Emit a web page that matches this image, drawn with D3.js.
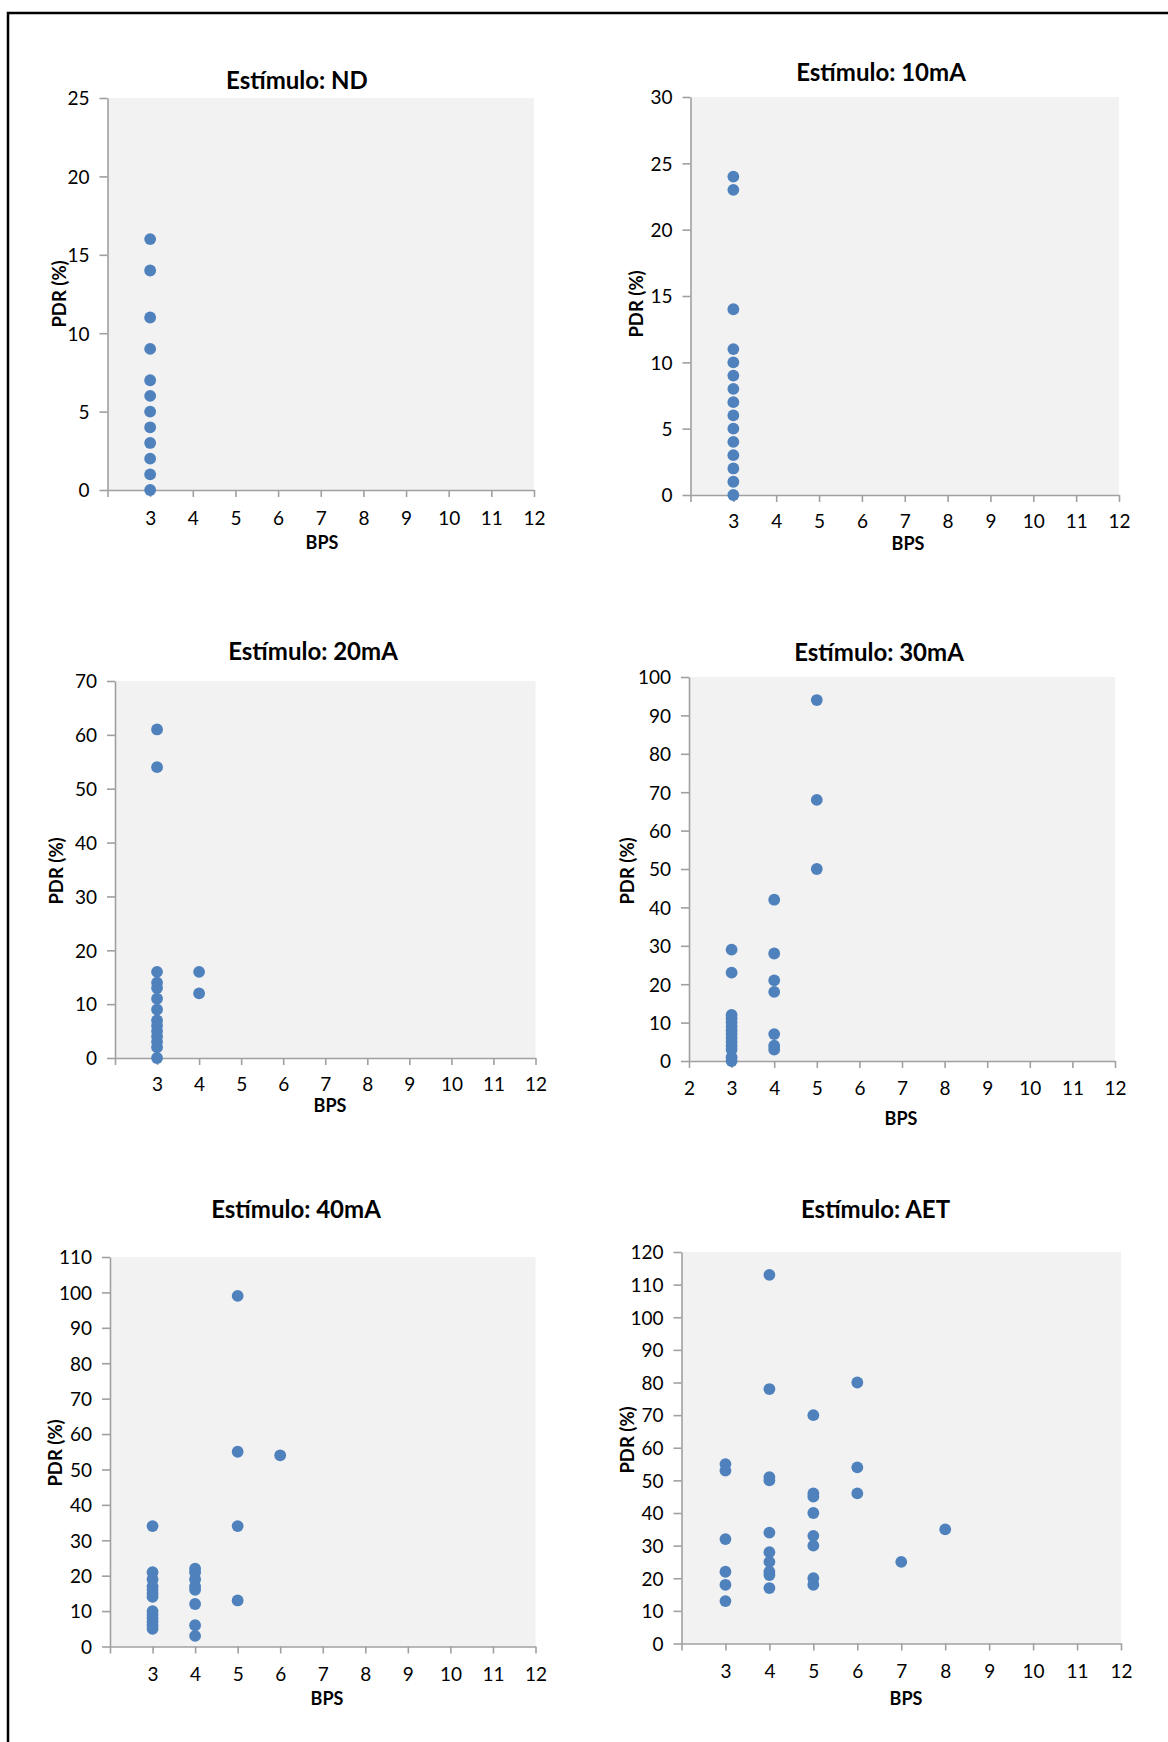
<!DOCTYPE html>
<html>
<head>
<meta charset="utf-8">
<script src="https://cdn.jsdelivr.net/npm/d3@7"></script>
<style>
  body { margin: 0; background: #fff; }
  svg { display: block; }
  text { font-family: Lato, "Open Sans", sans-serif; fill: #000; }
</style>
</head>
<body>
<div id="chart"></div>
<script>
// x axis ticks shared by every panel
var bpsTicks = [2, 3, 4, 5, 6, 7, 8, 9, 10, 11, 12];

// one pair of arrays per panel: BPS and PDR (%)
var ndBps = [3, 3, 3, 3, 3, 3, 3, 3, 3, 3, 3, 3];
var ndPdr = [16, 14, 11, 9, 7, 6, 5, 4, 3, 2, 1, 0];

var ma10Bps = [3, 3, 3, 3, 3, 3, 3, 3, 3, 3, 3, 3, 3, 3, 3];
var ma10Pdr = [24, 23, 14, 11, 10, 9, 8, 7, 6, 5, 4, 3, 2, 1, 0];

var ma20Bps = [3, 3, 3, 3, 3, 3, 3, 3, 3, 3, 3, 3, 3, 3, 4, 4];
var ma20Pdr = [61, 54, 16, 14, 13, 11, 9, 7, 6, 5, 4, 3, 2, 0, 16, 12];

var ma30Bps = [3, 3, 3, 3, 3, 3, 3, 3, 3, 3, 3, 3, 3, 3, 4, 4, 4, 4, 4, 4, 4, 5, 5, 5];
var ma30Pdr = [29, 23, 12, 11, 10, 9, 8, 7, 6, 5, 4, 3, 1, 0, 42, 28, 21, 18, 7, 4, 3, 94, 68, 50];

var ma40Bps = [3, 3, 3, 3, 3, 3, 3, 3, 3, 3, 3, 3, 3, 4, 4, 4, 4, 4, 4, 4, 4, 5, 5, 5, 5, 6];
var ma40Pdr = [34, 21, 19, 17, 16, 15, 14, 10, 9, 8, 7, 6, 5, 22, 21, 19, 17, 16, 12, 6, 3, 99, 55, 34, 13, 54];

var aetBps = [3, 3, 3, 3, 3, 3, 4, 4, 4, 4, 4, 4, 4, 4, 4, 4, 5, 5, 5, 5, 5, 5, 5, 5, 6, 6, 6, 7, 8];
var aetPdr = [55, 53, 32, 22, 18, 13, 113, 78, 51, 50, 34, 28, 25, 22, 21, 17, 70, 46, 45, 40, 33, 30, 20, 18, 80, 54, 46, 25, 35];

var titles = ['Estímulo: ND', 'Estímulo: 10mA', 'Estímulo: 20mA', 'Estímulo: 30mA', 'Estímulo: 40mA', 'Estímulo: AET'];
var yMaxes = [25, 30, 70, 100, 110, 120];
var ySteps = [5, 5, 10, 10, 10, 10];

// layout of each panel (pixels)
var panels = [
  {bps: ndBps, pdr: ndPdr, l: 107.5, r: 534, t: 98, b: 490, tx: 297, ty: 89, lab: 524.5, bx: 322, by: 549, yx: 59, yy: 294, show2: false},
  {bps: ma10Bps, pdr: ma10Pdr, l: 690.5, r: 1119, t: 97, b: 495, tx: 881, ty: 81, lab: 528, bx: 908, by: 550, yx: 636, yy: 304, show2: false},
  {bps: ma20Bps, pdr: ma20Pdr, l: 115, r: 535.5, t: 681, b: 1058, tx: 313, ty: 660, lab: 1091, bx: 330, by: 1112, yx: 56, yy: 871, show2: false},
  {bps: ma30Bps, pdr: ma30Pdr, l: 689, r: 1115, t: 677, b: 1061, tx: 879, ty: 661, lab: 1095, bx: 901, by: 1124.5, yx: 627, yy: 871, show2: true},
  {bps: ma40Bps, pdr: ma40Pdr, l: 110, r: 535.5, t: 1257, b: 1646.5, tx: 296, ty: 1217.5, lab: 1680.5, bx: 327, by: 1705, yx: 55, yy: 1453, show2: false},
  {bps: aetBps, pdr: aetPdr, l: 681.5, r: 1121, t: 1252, b: 1643.5, tx: 875.5, ty: 1217.5, lab: 1677.5, bx: 906, by: 1704.5, yx: 627, yy: 1440, show2: false}
];

var axisColor = '#a0a0a0';
var dotColor = '#4f81bd';

var svg = d3.select('#chart')
  .append('svg')
  .attr('width', 1168)
  .attr('height', 1742);

// page frame (left and top edges only)
svg.append('path')
  .attr('d', 'M8,1742 V13 H1168')
  .attr('fill', 'none')
  .attr('stroke', '#000')
  .attr('stroke-width', 2.5);

panels.forEach(function (p, i) {
  var x = d3.scaleLinear().domain([2, 12]).range([p.l, p.r]);
  var y = d3.scaleLinear().domain([0, yMaxes[i]]).range([p.b, p.t]);
  var g = svg.append('g');

  // plot area
  g.append('rect')
    .attr('x', p.l).attr('y', p.t)
    .attr('width', p.r - p.l).attr('height', p.b - p.t)
    .attr('fill', '#f2f2f2');

  // y axis
  var yAxis = d3.axisLeft(y)
    .tickValues(d3.range(0, yMaxes[i] + 1, ySteps[i]))
    .tickSizeInner(8)
    .tickSizeOuter(0)
    .tickPadding(10);
  var yg = g.append('g')
    .attr('transform', 'translate(' + p.l + ',0)')
    .call(yAxis);

  // x axis
  var xAxis = d3.axisBottom(x)
    .tickValues(bpsTicks)
    .tickFormat(function (d) { return (d === 2 && !p.show2) ? '' : d; })
    .tickSizeInner(7)
    .tickSizeOuter(0)
    .tickPadding(0);
  var xg = g.append('g')
    .attr('transform', 'translate(0,' + p.b + ')')
    .call(xAxis);

  [yg, xg].forEach(function (a) {
    a.select('.domain').attr('stroke', axisColor).attr('stroke-width', 1.6);
    a.selectAll('.tick line').attr('stroke', axisColor).attr('stroke-width', 1.6);
    a.selectAll('.tick text')
      .attr('font-family', 'Lato, sans-serif')
      .attr('font-size', 19)
      .attr('fill', '#000');
  });
  yg.selectAll('.tick text').attr('dy', '0.36em');
  xg.selectAll('.tick text')
    .attr('y', p.lab - p.b)
    .attr('dy', 0);

  // points
  g.selectAll('circle')
    .data(p.bps.map(function (b, k) { return {bps: b, pdr: p.pdr[k]}; }))
    .enter()
    .append('circle')
      .attr('cx', function (d) { return x(d.bps); })
      .attr('cy', function (d) { return y(d.pdr); })
      .attr('r', 5.9)
      .attr('fill', dotColor);

  // title
  g.append('text')
    .attr('x', p.tx).attr('y', p.ty)
    .attr('text-anchor', 'middle')
    .attr('font-size', 24)
    .attr('font-weight', 'bold')
    .text(titles[i]);

  // x label
  g.append('text')
    .attr('x', p.bx).attr('y', p.by)
    .attr('text-anchor', 'middle')
    .attr('font-size', 18)
    .attr('font-weight', 'bold')
    .text('BPS');

  // y label
  g.append('text')
    .attr('transform', 'translate(' + p.yx + ',' + p.yy + ')rotate(-90)')
    .attr('text-anchor', 'middle')
    .attr('dy', '0.36em')
    .attr('font-size', 18.5)
    .attr('font-weight', 'bold')
    .text('PDR (%)');
});
</script>
</body>
</html>
